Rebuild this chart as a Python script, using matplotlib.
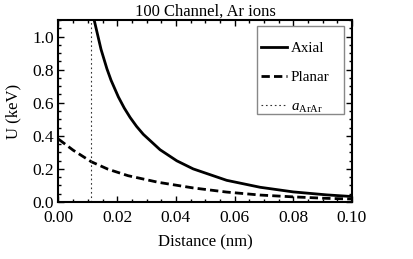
import matplotlib
matplotlib.use("Agg")
import matplotlib.pyplot as plt
from matplotlib.ticker import MultipleLocator, FormatStrFormatter
from matplotlib.patches import Rectangle

plt.rcParams['font.family'] = ['Liberation Serif', 'DejaVu Serif']
plt.rcParams['mathtext.fontset'] = 'custom'
plt.rcParams['mathtext.rm'] = 'Liberation Serif'
plt.rcParams['mathtext.it'] = 'Liberation Serif:italic'

title = "100 Channel, Ar ions"
xlabel = "Distance (nm)"
ylabel = "U (keV)"

axial_x = [0.0122, 0.0145, 0.0165, 0.0179, 0.0204, 0.0224, 0.0244, 0.0266, 0.0289,
           0.0346, 0.0403, 0.0459, 0.0573, 0.0687, 0.0800, 0.0914, 0.1000]
axial_u = [1.096, 0.922, 0.805, 0.736, 0.635, 0.568, 0.511, 0.457, 0.409,
           0.316, 0.249, 0.200, 0.131, 0.089, 0.061, 0.043, 0.033]

planar_x = [0.0, 0.0050, 0.0112, 0.0169, 0.0237, 0.0340, 0.0459, 0.0573, 0.0687,
            0.0800, 0.0914, 0.1000]
planar_u = [0.380, 0.313, 0.243, 0.198, 0.159, 0.119, 0.085, 0.060, 0.042,
            0.031, 0.022, 0.018]

a_arar = 0.0112

fig = plt.figure(figsize=(4.14, 2.59), dpi=100)
ax = fig.add_axes([58.5/414, 1-202/259, 293.5/414, 182/259])

ax.plot(axial_x, axial_u, color='black', lw=2.0, label='Axial')
ax.plot(planar_x, planar_u, color='black', lw=2.0, ls=(0, (3.0, 1.5)), label='Planar')
ax.axvline(a_arar, color='#333333', lw=0.8, ls=(0, (1.5, 2.5)), label=r'$a_{\rm ArAr}$')

ax.set_xlim(0, 0.10)
ax.set_ylim(0, 1.1)
ax.xaxis.set_major_locator(MultipleLocator(0.02))
ax.xaxis.set_minor_locator(MultipleLocator(0.005))
ax.yaxis.set_major_locator(MultipleLocator(0.2))
ax.yaxis.set_minor_locator(MultipleLocator(0.05))
ax.xaxis.set_major_formatter(FormatStrFormatter('%.2f'))
ax.yaxis.set_major_formatter(FormatStrFormatter('%.1f'))
ax.tick_params(which='both', direction='in', top=True, right=True, labelsize=12.5, width=1.0)
ax.tick_params(which='major', length=4)
ax.tick_params(which='minor', length=2.5)
ax.tick_params(axis='x', pad=5.5)
for s in ax.spines.values():
    s.set_linewidth(1.5)

ax.set_title(title, fontsize=12, pad=2)
ax.set_xlabel(xlabel, fontsize=12, labelpad=6.5)
ax.set_ylabel(ylabel, fontsize=12, labelpad=8)

# legend frame
ax.add_patch(Rectangle((0.676, 0.4835), 0.297, 0.4835, transform=ax.transAxes,
                       facecolor='white', edgecolor='#888888', lw=1.0, zorder=4))
leg = ax.legend(loc='upper left', bbox_to_anchor=(0.690, 0.882), fontsize=10.8, frameon=False,
                handlelength=1.7, handletextpad=0.3, labelspacing=1.05, borderpad=0,
                borderaxespad=0)
leg.set_zorder(5)

fig.savefig("out.png", dpi=100)
